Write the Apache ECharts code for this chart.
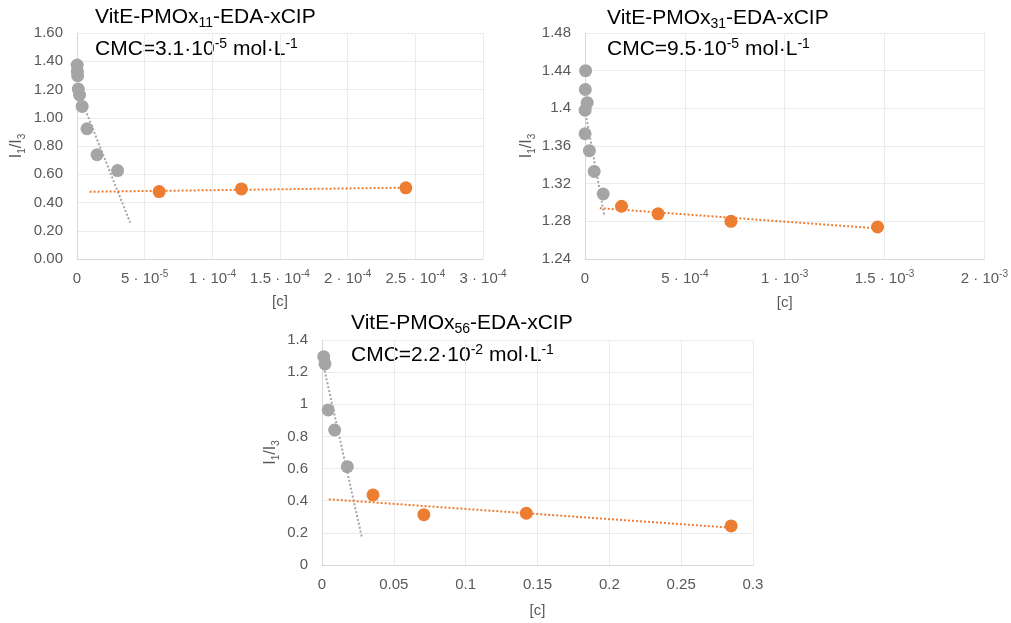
<!DOCTYPE html>
<html>
<head>
<meta charset="utf-8">
<script src="https://cdn.jsdelivr.net/npm/echarts@6/dist/echarts.min.js"></script>
<style>
  html, body { margin: 0; padding: 0; background: #fff; }
  #main { width: 1011px; height: 623px; }
</style>
</head>
<body>
<div id="main"></div>
<script>
// panel 1: VitE-PMOx11
const gray11X = [1.2e-7, 2.4e-7, 4.7e-7, 9.5e-7, 1.9e-6, 3.8e-6, 7.4e-6, 1.48e-5, 3.0e-5]
const gray11Y = [1.373, 1.328, 1.298, 1.203, 1.161, 1.080, 0.922, 0.738, 0.626]
const orange11X = [6.07e-5, 1.215e-4, 2.43e-4]
const orange11Y = [0.477, 0.496, 0.504]
const trendGray11 = [[6.1e-6, 1.057], [3.93e-5, 0.257]]
const trendOrange11 = [[9.3e-6, 0.476], [2.43e-4, 0.505]]
const xTicks11 = ['0', '5 · 10^{-5}', '1 · 10^{-4}', '1.5 · 10^{-4}', '2 · 10^{-4}', '2.5 · 10^{-4}', '3 · 10^{-4}']
const yTicks11 = ['0.00', '0.20', '0.40', '0.60', '0.80', '1.00', '1.20', '1.40', '1.60']

// panel 2: VitE-PMOx31
const gray31X = [3e-6, 1.5e-6, 1.1e-5, 6e-7, 3e-7, 2.2e-5, 4.6e-5, 9.1e-5]
const gray31Y = [1.440, 1.420, 1.406, 1.398, 1.373, 1.355, 1.333, 1.309]
const orange31X = [1.83e-4, 3.66e-4, 7.31e-4, 1.465e-3]
const orange31Y = [1.296, 1.288, 1.280, 1.274]
const trendGray31 = [[0, 1.398], [9.6e-5, 1.287]]
const trendOrange31 = [[7.4e-5, 1.294], [1.465e-3, 1.2725]]
const xTicks31 = ['0', '5 · 10^{-4}', '1 · 10^{-3}', '1.5 · 10^{-3}', '2 · 10^{-3}']
const yTicks31 = ['1.24', '1.28', '1.32', '1.36', '1.4', '1.44', '1.48']

// panel 3: VitE-PMOx56
const gray56X = [0.0012, 0.0021, 0.0043, 0.0088, 0.0176]
const gray56Y = [1.296, 1.251, 0.965, 0.840, 0.612]
const orange56X = [0.0355, 0.0709, 0.1422, 0.2848]
const orange56Y = [0.436, 0.313, 0.322, 0.243]
const trendGray56 = [[0.0012, 1.234], [0.0279, 0.166]]
const trendOrange56 = [[0.0047, 0.409], [0.2848, 0.232]]
const xTicks56 = ['0', '0.05', '0.1', '0.15', '0.2', '0.25', '0.3']
const yTicks56 = ['0', '0.2', '0.4', '0.6', '0.8', '1', '1.2', '1.4']

const titles = ['VitE-PMOx_{11}-EDA-xCIP', 'VitE-PMOx_{31}-EDA-xCIP', 'VitE-PMOx_{56}-EDA-xCIP']
const cmcLabels = ['CMC=3.1·10^{-5} mol·L^{-1}', 'CMC=9.5·10^{-5} mol·L^{-1}', 'CMC=2.2·10^{-2} mol·L^{-1}']

const FONT = '"Liberation Sans", Arial, sans-serif'
const GRAY = '#a5a5a5'
const ORANGE = '#ed7d31'
const LABEL = '#595959'

// '_{..}' -> subscript, '^{..}' -> superscript
function toRich (str) {
    let out = ''
    let last = 0
    str.replace(/([_^])\{([^}]*)\}/g, function (m, kind, txt, pos) {
        if (pos > last) out += '{n|' + str.slice(last, pos) + '}'
        out += (kind === '_' ? '{sub|' : '{sup|') + txt + '}'
        last = pos + m.length
        return m
    })
    if (last < str.length) out += '{n|' + str.slice(last) + '}'
    return out
}

function zip (xs, ys) {
    return xs.map((x, i) => [x, ys[i]])
}

function richStyles (size, color) {
    const small = Math.round(size * 0.65)
    return {
        n: { fontSize: size, fontFamily: FONT, color: color, lineHeight: size + 4 },
        sup: { fontSize: small, fontFamily: FONT, color: color, lineHeight: small, verticalAlign: 'top' },
        sub: { fontSize: small, fontFamily: FONT, color: color, lineHeight: small, verticalAlign: 'bottom' }
    }
}

const grids = [
    { left: 77, top: 33, width: 406, height: 226 },
    { left: 585, top: 33, width: 404, height: 226 },
    { left: 322, top: 340, width: 431, height: 225 }
]

function xAxis (idx, max, interval, ticks, nameGap) {
    return {
        type: 'value',
        gridIndex: idx,
        min: 0,
        max: max,
        interval: interval,
        name: '[c]',
        nameLocation: 'middle',
        nameGap: nameGap,
        nameTextStyle: { fontSize: 15, fontFamily: FONT, color: LABEL },
        axisLine: { show: true, onZero: false, lineStyle: { color: '#d9d9d9', width: 1 } },
        axisTick: { show: false },
        splitLine: { show: true, lineStyle: { color: '#ebebeb', width: 1 } },
        axisLabel: {
            margin: 10,
            formatter: function (v, i) { return toRich(ticks[i] || '') },
            rich: richStyles(15, LABEL)
        }
    }
}

function yAxis (idx, min, max, interval, ticks, nameGap) {
    return {
        type: 'value',
        gridIndex: idx,
        min: min,
        max: max,
        interval: interval,
        name: toRich('I_{1}/I_{3}'),
        nameLocation: 'middle',
        nameGap: nameGap,
        nameTextStyle: { rich: richStyles(16, LABEL) },
        axisLine: { show: true, lineStyle: { color: '#d9d9d9', width: 1 } },
        axisTick: { show: false },
        splitLine: { show: true, lineStyle: { color: '#ebebeb', width: 1 } },
        axisLabel: {
            margin: 14,
            fontSize: 15,
            fontFamily: FONT,
            color: LABEL,
            formatter: function (v, i) { return ticks[i] || '' }
        }
    }
}

function scatter (idx, data, color) {
    return {
        type: 'scatter',
        xAxisIndex: idx,
        yAxisIndex: idx,
        data: data,
        symbol: 'circle',
        symbolSize: 13,
        itemStyle: { color: color, opacity: 1 },
        z: 3
    }
}

function trend (idx, data, color) {
    return {
        type: 'line',
        xAxisIndex: idx,
        yAxisIndex: idx,
        data: data,
        showSymbol: false,
        symbol: 'none',
        lineStyle: { color: color, width: 2, type: [2, 2] },
        z: 4,
        silent: true
    }
}

const titlePos = [[95, 7, 37], [607, 8, 37], [351, 313, 343]]
const graphic = []
titlePos.forEach(function (p, i) {
    graphic.push({
        type: 'text', left: p[0], top: p[1],
        style: { text: toRich(titles[i]), rich: richStyles(21, '#000') }
    })
    graphic.push({
        type: 'text', left: p[0], top: p[2],
        style: { text: toRich(cmcLabels[i]), rich: richStyles(21, '#000') }
    })
})

const chart = echarts.init(document.getElementById('main'), null, { renderer: 'canvas' })
chart.setOption({
    animation: false,
    backgroundColor: '#fff',
    grid: grids,
    xAxis: [
        xAxis(0, 3e-4, 5e-5, xTicks11, 35),
        xAxis(1, 2e-3, 5e-4, xTicks31, 36),
        xAxis(2, 0.3, 0.05, xTicks56, 38)
    ],
    yAxis: [
        yAxis(0, 0, 1.6, 0.2, yTicks11, 50),
        yAxis(1, 1.24, 1.48, 0.04, yTicks31, 48),
        yAxis(2, 0, 1.4, 0.2, yTicks56, 41)
    ],
    series: [
        trend(0, trendGray11, GRAY),
        trend(0, trendOrange11, ORANGE),
        scatter(0, zip(gray11X, gray11Y), GRAY),
        scatter(0, zip(orange11X, orange11Y), ORANGE),
        trend(1, trendGray31, GRAY),
        trend(1, trendOrange31, ORANGE),
        scatter(1, zip(gray31X, gray31Y), GRAY),
        scatter(1, zip(orange31X, orange31Y), ORANGE),
        trend(2, trendGray56, GRAY),
        trend(2, trendOrange56, ORANGE),
        scatter(2, zip(gray56X, gray56Y), GRAY),
        scatter(2, zip(orange56X, orange56Y), ORANGE)
    ],
    graphic: graphic
})
</script>
</body>
</html>
